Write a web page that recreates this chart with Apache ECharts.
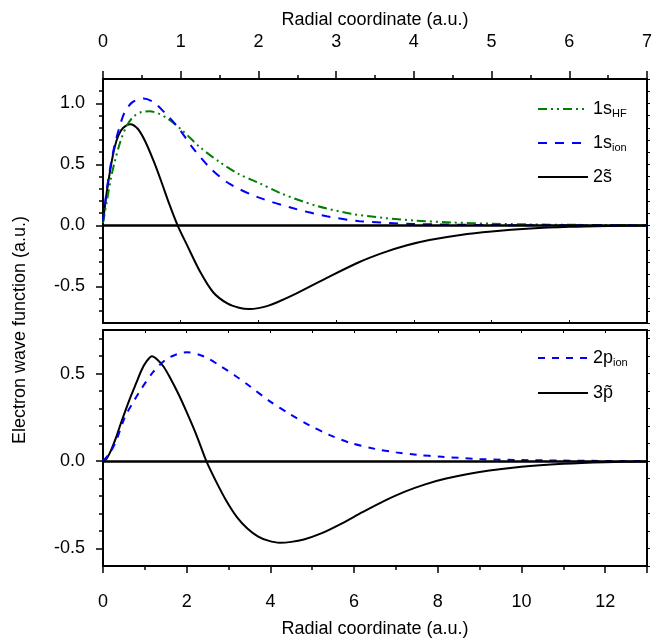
<!DOCTYPE html>
<html>
<head>
<meta charset="utf-8">
<script src="https://cdn.jsdelivr.net/npm/echarts@6/dist/echarts.min.js"></script>
<style>
  html, body { margin: 0; padding: 0; background: #fff; }
  #chart { width: 657px; height: 639px; }
</style>
</head>
<body>
<div id="chart"></div>
<script>
// top panel: [r, psi]
var s1HF = [[0,0.02],[0.05,0.2],[0.1,0.38],[0.15,0.52],[0.22,0.68],[0.3,0.81],[0.39,0.89],[0.5,0.93],[0.6,0.935],[0.7,0.92],[0.82,0.88],[1.0,0.79],[1.25,0.64],[1.5,0.52],[1.75,0.42],[2.0,0.35],[2.3,0.26],[2.75,0.16],[3.2,0.095],[3.6,0.062],[4.0,0.04],[4.5,0.024],[5.0,0.014],[5.5,0.008],[6,0.005],[6.5,0.003],[7,0.002]];
var s1ion = [[0,0.03],[0.05,0.3],[0.1,0.5],[0.15,0.66],[0.2,0.78],[0.28,0.93],[0.38,1.01],[0.52,1.04],[0.65,1.01],[0.8,0.92],[0.97,0.8],[1.15,0.64],[1.38,0.47],[1.63,0.34],[2.0,0.23],[2.45,0.14],[2.88,0.075],[3.3,0.035],[4,0.012],[5,0.003],[6,0.001],[7,0]];
var s2t = [[0,0.03],[0.05,0.28],[0.1,0.48],[0.15,0.64],[0.2,0.74],[0.26,0.8],[0.35,0.83],[0.45,0.79],[0.55,0.68],[0.65,0.53],[0.75,0.36],[0.85,0.18],[0.96,0],[1.08,-0.16],[1.25,-0.38],[1.42,-0.55],[1.6,-0.64],[1.75,-0.675],[1.88,-0.685],[2.0,-0.678],[2.12,-0.66],[2.25,-0.628],[2.45,-0.57],[2.88,-0.43],[3.3,-0.3],[3.6,-0.225],[3.9,-0.165],[4.2,-0.12],[4.6,-0.078],[5.0,-0.05],[5.5,-0.026],[6.0,-0.012],[6.5,-0.005],[7,-0.001]];
// bottom panel
var p2ion = [[0,0],[0.16,0.045],[0.32,0.12],[0.52,0.25],[0.68,0.32],[0.88,0.4],[1.2,0.51],[1.5,0.58],[1.75,0.61],[2.0,0.623],[2.4,0.6],[2.8,0.545],[3.15,0.49],[3.5,0.43],[4.0,0.34],[4.46,0.27],[4.94,0.204],[5.42,0.149],[5.9,0.105],[6.5,0.07],[7.0,0.05],[7.5,0.036],[8.1,0.025],[9.0,0.012],[10,0.006],[11,0.003],[12,0.001],[13,0]];
var p3t = [[0,0],[0.08,0.012],[0.16,0.045],[0.24,0.09],[0.32,0.14],[0.44,0.225],[0.56,0.305],[0.68,0.38],[0.8,0.45],[0.92,0.52],[1.04,0.57],[1.17,0.6],[1.3,0.58],[1.45,0.54],[1.6,0.478],[1.8,0.385],[2.0,0.28],[2.24,0.145],[2.47,0],[2.71,-0.12],[2.95,-0.228],[3.2,-0.32],[3.45,-0.385],[3.7,-0.43],[3.95,-0.455],[4.22,-0.467],[4.5,-0.462],[4.8,-0.448],[5.2,-0.415],[5.7,-0.357],[6.2,-0.292],[6.7,-0.23],[7.2,-0.176],[7.7,-0.133],[8.2,-0.1],[9.0,-0.062],[10,-0.032],[11,-0.015],[12,-0.006],[13,-0.002]];

var topMajor = [-0.5, 0, 0.5, 1.0];
var botMajor = [-0.5, 0, 0.5];
var legendNames = {
  's1HF': '1s{sub|HF}',
  's1ion': '1s{sub|ion}',
  's2t': '2s\u0303',
  'p2ion': '2p{sub|ion}',
  'p3t': '3p\u0303'
};

var chart = echarts.init(document.getElementById('chart'));
var font = 'Liberation Sans, Arial, sans-serif';
var axLine = { show: true, onZero: false, lineStyle: { color: '#000', width: 2 } };
var lbl = { color: '#000', fontSize: 18, fontFamily: font };

function fmt(v) {
  var r = Math.round(v * 10) / 10;
  if (Math.abs(r * 2 - Math.round(r * 2)) > 1e-6) return '';
  return (r === 0 ? 0 : r).toFixed(1);
}

function yAxes(grid, mn, mx, major) {
  return [
    { gridIndex: grid, type: 'value', min: mn, max: mx, interval: 0.1, position: 'left',
      axisLine: axLine, splitLine: { show: false },
      axisTick: { show: true, length: 4, lineStyle: { width: 1.5, color: '#000' } },
      axisLabel: Object.assign({ margin: 18, formatter: fmt, showMaxLabel: false, showMinLabel: false }, lbl) },
    { gridIndex: grid, type: 'value', min: mn, max: mx, position: 'left',
      axisLine: { show: false }, splitLine: { show: false },
      axisTick: { show: true, length: 7, customValues: major, lineStyle: { width: 1.5, color: '#000' } },
      axisLabel: { show: false } },
    { gridIndex: grid, type: 'value', min: mn, max: mx, interval: 0.1, position: 'right',
      axisLine: axLine, splitLine: { show: false },
      axisTick: { show: true, length: 3, lineStyle: { width: 1, color: '#000' } },
      axisLabel: { show: false } }
  ];
}

function series(name, data, xi, yi, color, type, zero) {
  var s = {
    name: name, type: 'line', data: data, xAxisIndex: xi, yAxisIndex: yi,
    smooth: 0.3, showSymbol: false, symbol: 'none',
    lineStyle: { color: color, width: 2, type: type },
    itemStyle: { color: color }
  };
  if (zero) {
    s.markLine = { silent: true, symbol: 'none', label: { show: false },
      lineStyle: { color: '#000', width: 2.5, type: 'solid' },
      data: [{ yAxis: 0 }] };
  }
  return s;
}

var legendText = { color: '#000', fontSize: 18, fontFamily: font,
  rich: { sub: { fontSize: 11, fontFamily: font, verticalAlign: 'bottom', padding: [9, 0, 0, 0] } } };

option = {
  animation: false,
  backgroundColor: '#fff',
  textStyle: { fontFamily: font },
  grid: [
    { left: 103, top: 79, width: 544, height: 244 },
    { left: 103, top: 330, width: 544, height: 244 }
  ],
  xAxis: [
    { gridIndex: 0, type: 'value', min: 0, max: 7, interval: 1, position: 'top',
      name: 'Radial coordinate (a.u.)', nameLocation: 'middle', nameGap: 50,
      nameTextStyle: lbl, axisLine: axLine, splitLine: { show: false },
      axisTick: { show: true, length: 8, lineStyle: { width: 1.5, color: '#000' } },
      minorTick: { show: true, splitNumber: 2, length: 4, lineStyle: { width: 1.5, color: '#000' } },
      axisLabel: Object.assign({ margin: 28 }, lbl) },
    { gridIndex: 0, type: 'value', min: 0, max: 7, interval: 1, position: 'bottom',
      axisLine: axLine, splitLine: { show: false },
      axisTick: { show: true, length: 3, inside: true, lineStyle: { color: '#000' } },
      axisLabel: { show: false } },
    { gridIndex: 1, type: 'value', min: 0, max: 13, interval: 2, position: 'bottom',
      name: 'Radial coordinate (a.u.)', nameLocation: 'middle', nameGap: 54,
      nameTextStyle: lbl, axisLine: axLine, splitLine: { show: false },
      axisTick: { show: true, length: 7, lineStyle: { width: 1.5, color: '#000' } },
      minorTick: { show: true, splitNumber: 2, length: 4, lineStyle: { width: 1.5, color: '#000' } },
      axisLabel: Object.assign({ margin: 27, showMaxLabel: false }, lbl) },
    { gridIndex: 1, type: 'value', min: 0, max: 13, interval: 1, position: 'top',
      axisLine: axLine, splitLine: { show: false },
      axisTick: { show: true, length: 3, inside: true, lineStyle: { color: '#000' } },
      axisLabel: { show: false } }
  ],
  yAxis: yAxes(0, -0.8, 1.2, topMajor).concat(yAxes(1, -0.6, 0.75, botMajor)),
  legend: [
    { data: ['s1HF', 's1ion', 's2t'], orient: 'vertical', left: 537, top: 100, padding: 0,
      itemWidth: 50, itemHeight: 14, itemGap: 15,
      itemStyle: { opacity: 0 },
      formatter: function (n) { return legendNames[n]; },
      textStyle: legendText },
    { data: ['p2ion', 'p3t'], orient: 'vertical', left: 537, top: 349, padding: 0,
      itemWidth: 50, itemHeight: 14, itemGap: 16,
      itemStyle: { opacity: 0 },
      formatter: function (n) { return legendNames[n]; },
      textStyle: legendText }
  ],
  graphic: [
    { type: 'text', x: 20, y: 330, rotation: Math.PI / 2,
      style: { text: 'Electron wave function (a.u.)', fill: '#000', fontSize: 18,
        fontFamily: font, align: 'center', verticalAlign: 'middle' } }
  ],
  series: [
    series('s2t', s2t, 0, 0, '#000', 'solid', true),
    series('s1HF', s1HF, 0, 0, '#008000', [9, 4, 2, 4, 2, 4], false),
    series('s1ion', s1ion, 0, 0, '#0000ff', [9, 8], false),
    series('p3t', p3t, 2, 3, '#000', 'solid', true),
    series('p2ion', p2ion, 2, 3, '#0000ff', [7, 7], false)
  ]
};

chart.setOption(option);
</script>
</body>
</html>
